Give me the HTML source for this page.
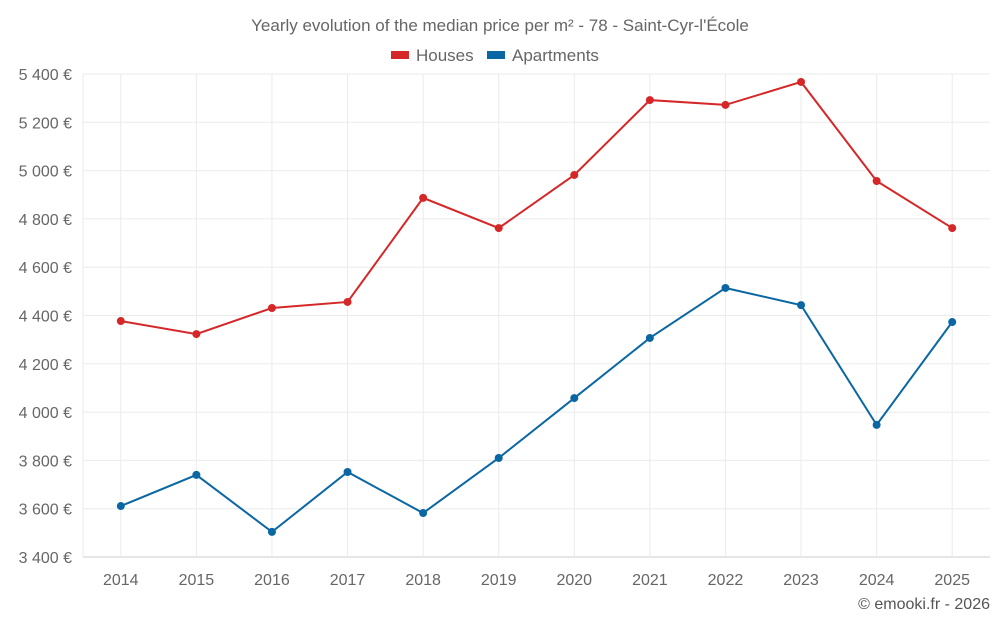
<!DOCTYPE html>
<html><head><meta charset="utf-8"><style>
body{margin:0;background:#fff;font-family:"Liberation Sans",sans-serif}
svg text{font-family:"Liberation Sans",sans-serif}
</style></head><body>
<svg id="c" width="1000" height="625" xmlns="http://www.w3.org/2000/svg">
<text x="500" y="31" text-anchor="middle" font-size="17" fill="#666">Yearly evolution of the median price per m² - 78 - Saint-Cyr-l'École</text>
<g><rect x="391" y="51" width="18" height="8" fill="#d62728"/><text x="416" y="61" font-size="17" fill="#666">Houses</text></g>
<g><rect x="487" y="51" width="18" height="8" fill="#0a67a3"/><text x="512" y="61" font-size="17" fill="#666">Apartments</text></g>
<text x="990" y="609" text-anchor="end" font-size="16" fill="#555">© emooki.fr - 2026</text>
</svg>
<script>
const categories=["2014","2015","2016","2017","2018","2019","2020","2021","2022","2023","2024","2025"];
const houses=[4377,4323,4431,4456,4887,4762,4982,5292,5272,5367,4957,4762];
const apartments=[3611,3740,3504,3752,3582,3810,4058,4307,4514,4443,3947,4373];
const yTicks=[3400,3600,3800,4000,4200,4400,4600,4800,5000,5200,5400];
const svg=document.getElementById('c');const NS='http://www.w3.org/2000/svg';
const L=83,R=990,T=74,B=557,yMin=3400,yMax=5400;
const bw=(R-L)/categories.length;
const x=i=>L+bw*(i+0.5);
const y=v=>B-(v-yMin)/(yMax-yMin)*(B-T);
function mk(t,a){const e=document.createElementNS(NS,t);for(const k in a)e.setAttribute(k,a[k]);svg.appendChild(e);return e;}
yTicks.forEach(v=>{
 const g=mk('line',{x1:L,x2:R,y1:y(v),y2:y(v),stroke:v===yMin?'#ccc':'#ebebeb'});
 
 
 const t=mk('text',{x:72,y:y(v)+6,'text-anchor':'end','font-size':16,fill:'#666'});
 t.textContent=String(v).replace(/(\d)(\d{3})$/,'$1 $2')+' €';
 
 
});
const ax=mk('line',{x1:L,x2:L,y1:T,y2:B,stroke:'#ebebeb'});


categories.forEach((c,i)=>{
 const g=mk('line',{x1:x(i),x2:x(i),y1:T,y2:B,stroke:'#ebebeb'});
 
 
 const t=mk('text',{x:x(i),y:585,'text-anchor':'middle','font-size':16,fill:'#666'});
 t.textContent=c;
 
 
});
function series(vals,color,name){
 const p=mk('polyline',{points:vals.map((v,i)=>x(i)+','+y(v)).join(' '),fill:'none',stroke:color,'stroke-width':2});
 
 
 vals.forEach((v,i)=>{
  const c=mk('circle',{cx:x(i),cy:y(v),r:4,fill:color});
  
  
 });
}
series(houses,'#d62728','houses');
series(apartments,'#0a67a3','apartments');
</script>
</body></html>
